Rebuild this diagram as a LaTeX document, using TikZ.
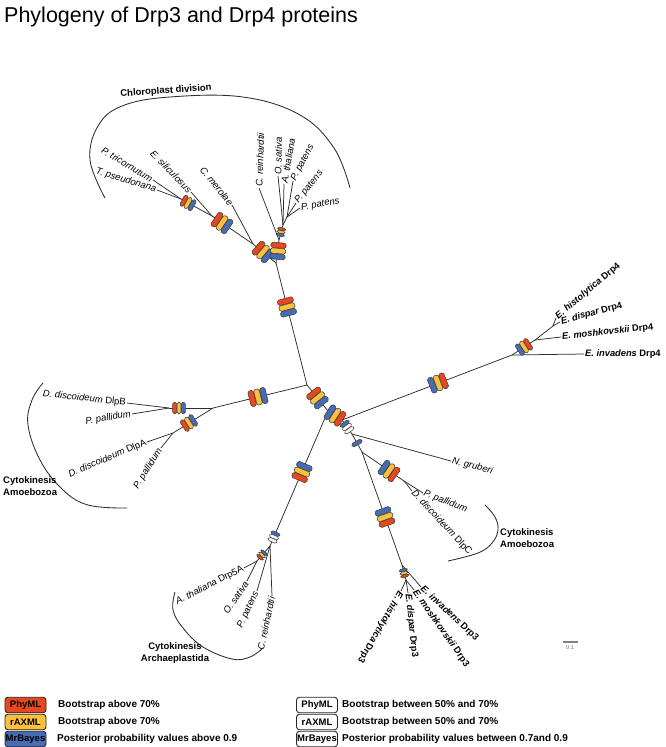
\documentclass[tikz,border=0pt]{standalone}
\usepackage{fontspec}
\setmainfont{Liberation Sans}
\usetikzlibrary{calc}
\definecolor{phyred}{RGB}{232,72,28}
\definecolor{raxyel}{RGB}{250,192,62}
\definecolor{mbblue}{RGB}{70,108,180}
\definecolor{linegray}{RGB}{45,45,45}
% #1 position, #2 rotation, #3 #4 #5 colours (top to bottom), #6 scale
\newcommand{\badge}[6]{%
  \begin{scope}[shift={(#1)},rotate=#2,scale=#6]
    \draw[barbox,fill=#3] (-8,-8.8) rectangle (8,-3.2);
    \draw[barbox,fill=#4] (-8,-2.8) rectangle (8,2.8);
    \draw[barbox,fill=#5] (-8,3.2) rectangle (8,8.8);
  \end{scope}}
\newcommand{\onebar}[4]{%
  \begin{scope}[shift={(#1)},rotate=#2,scale=#4]
    \draw[barbox,fill=#3] (-8,-2.8) rectangle (8,2.8);
  \end{scope}}
\begin{document}
\begin{tikzpicture}[x=1pt,y=-1pt,
  branch/.style={draw=linegray, line width=0.75pt},
  arcline/.style={draw=linegray, line width=0.85pt},
  barbox/.style={draw=black!75, line width=0.55pt, rounded corners=1.6pt},
  lab/.style={font=\fontsize{9.5}{10}\selectfont\itshape, inner sep=1pt},
  blab/.style={font=\fontsize{9.3}{10}\selectfont\bfseries, inner sep=1pt},
  clade/.style={font=\fontsize{9.5}{12}\selectfont\bfseries, inner sep=0pt},
  legbox/.style={draw=black!85, line width=0.9pt, rounded corners=3pt, minimum width=41pt, minimum height=15.5pt, inner sep=0pt, font=\fontsize{9.5}{10}\selectfont\bfseries},
  legtext/.style={anchor=west, font=\fontsize{10}{11}\selectfont\bfseries, inner sep=0pt}
]
\fill[white] (0,0) rectangle (666,747);
\useasboundingbox (0,0) rectangle (666,747);

% title
\node[anchor=base west, inner sep=0pt, font=\fontsize{21.5}{24}\selectfont] (title) at (4,22) {Phylogeny of Drp3 and Drp4 proteins};

% ---------- coordinates ----------
\coordinate (C) at (307,385);
\coordinate (T1) at (276,263);
\coordinate (Jcm) at (253,244);
\coordinate (Jes) at (212,216);
\coordinate (Jtp) at (181,199);
\coordinate (Jca) at (279,240);
\coordinate (Jos) at (283,225);
\coordinate (Jpp) at (287,217);
\coordinate (eTp) at (157,190);
\coordinate (ePt) at (153,180);
\coordinate (eEs) at (191,192);
\coordinate (eCm) at (232,205);
\coordinate (eCr) at (259,188);
\coordinate (eOs) at (278,176);
\coordinate (eAt) at (284,184);
\coordinate (ePpa) at (293,181);
\coordinate (ePpb) at (296,203);
\coordinate (ePpc) at (300,208);

\coordinate (JL) at (213,408);
\coordinate (JL1) at (169,408);
\coordinate (JL2) at (173,433);
\coordinate (eDlpB) at (127,403);
\coordinate (ePpB) at (132,414);
\coordinate (eDlpA) at (147,442);
\coordinate (ePpA) at (161,448);

\coordinate (C2) at (328,411);
\coordinate (C3) at (342,420);
\coordinate (C4) at (352,434);
\coordinate (C5) at (362,452);

\coordinate (J4a) at (512,355);
\coordinate (J4b) at (535,340);
\coordinate (J4c) at (553,326);
\coordinate (e4inv) at (584,354);
\coordinate (e4mos) at (561,337);
\coordinate (e4dis) at (560,322);
\coordinate (e4his) at (556,318);

\coordinate (JA) at (270,546);
\coordinate (JA2) at (257,561);
\coordinate (eAt5) at (244,568);
\coordinate (eOs5) at (247,581);
\coordinate (ePp5) at (257,591);
\coordinate (eCr5) at (272,596);

\coordinate (eNg) at (451,461);
\coordinate (JD) at (404,481);
\coordinate (eDlpC) at (412,491);
\coordinate (ePpC) at (423,493);
\coordinate (JB) at (402,565);
\coordinate (JB2) at (406,580);
\coordinate (e3inv) at (421,587);
\coordinate (e3mos) at (414,590);
\coordinate (e3dis) at (408,593);
\coordinate (e3his) at (401,591);

% ---------- branches ----------
\draw[branch] (C) -- (T1);
\draw[branch] (T1) -- (Jcm) -- (Jes) -- (Jtp);
\draw[branch] (Jtp) -- (eTp);
\draw[branch] (Jtp) -- (ePt);
\draw[branch] (Jes) -- (eEs);
\draw[branch] (Jcm) -- (eCm);
\draw[branch] (T1) -- (Jca) -- (Jos);
\draw[branch] (Jca) -- (eCr);
\draw[branch] (Jos) -- (eOs);
\draw[branch] (Jos) -- (eAt);
\draw[branch] (Jos) -- (Jpp);
\draw[branch] (Jpp) -- (ePpa);
\draw[branch] (Jpp) -- (ePpb);
\draw[branch] (Jpp) -- (ePpc);

\draw[branch] (C) -- (JL);
\draw[branch] (JL) -- (JL1);
\draw[branch] (JL1) -- (eDlpB);
\draw[branch] (JL1) -- (ePpB);
\draw[branch] (JL) -- (JL2);
\draw[branch] (JL2) -- (eDlpA);
\draw[branch] (JL2) -- (ePpA);

\draw[branch] (C) -- (C2) -- (C3) -- (C4) -- (C5);
\draw[branch] (C3) -- (J4a);
\draw[branch] (J4a) -- (e4inv);
\draw[branch] (J4a) -- (J4b);
\draw[branch] (J4b) -- (e4mos);
\draw[branch] (J4b) -- (J4c);
\draw[branch] (J4c) -- (e4dis);
\draw[branch] (J4c) -- (e4his);

\draw[branch] (C2) -- (JA);
\draw[branch] (JA) -- (eCr5);
\draw[branch] (JA) -- (ePp5);
\draw[branch] (JA) -- (JA2);
\draw[branch] (JA2) -- (eAt5);
\draw[branch] (JA2) -- (eOs5);

\draw[branch] (C4) -- (eNg);
\draw[branch] (C5) -- (JD);
\draw[branch] (JD) -- (eDlpC);
\draw[branch] (JD) -- (ePpC);
\draw[branch] (C5) -- (JB);
\draw[branch] (JB) -- (e3inv);
\draw[branch] (JB) -- (JB2);
\draw[branch] (JB2) -- (e3mos);
\draw[branch] (JB2) -- (e3dis);
\draw[branch] (JB2) -- (e3his);

% ---------- support badges ----------
\badge{287,307}{15}{phyred}{raxyel}{mbblue}{1}
\badge{263,252}{50}{phyred}{raxyel}{mbblue}{1}
\badge{278,251}{-5}{phyred}{raxyel}{mbblue}{0.95}
\badge{281,232}{-12}{phyred}{raxyel}{mbblue}{0.5}
\badge{222,223}{56}{phyred}{raxyel}{mbblue}{1}
\badge{188,203}{61}{phyred}{raxyel}{mbblue}{0.75}

\badge{258,397}{104}{phyred}{raxyel}{mbblue}{1}
\badge{179,408}{90}{phyred}{raxyel}{mbblue}{0.72}
\badge{189,423}{122}{phyred}{raxyel}{mbblue}{0.8}

\badge{317.5,398}{39}{phyred}{raxyel}{mbblue}{1}
\badge{335,415.5}{-123}{phyred}{raxyel}{mbblue}{1}
\badge{347,427}{35}{mbblue}{white}{white}{0.65}
\onebar{357,443}{29}{mbblue}{0.7}

\badge{438,383}{-69}{phyred}{raxyel}{mbblue}{1}
\badge{524,347}{-57}{phyred}{raxyel}{mbblue}{0.8}

\badge{302,472}{-23}{mbblue}{raxyel}{phyred}{1}
\badge{274,537}{-23}{mbblue}{white}{white}{0.6}
\badge{262,555}{-41}{mbblue}{raxyel}{phyred}{0.5}

\badge{389,471}{55}{mbblue}{raxyel}{phyred}{1}
\badge{385,517}{19.5}{mbblue}{raxyel}{phyred}{1}
\badge{404,573}{15}{mbblue}{raxyel}{phyred}{0.5}

% ---------- leaf labels ----------
\node[lab, anchor=east, rotate=-17] (nTp) at (eTp) {T. pseudonana};
\node[lab, anchor=east, rotate=-31] (nPt) at (ePt) {P. tricornutum};
\node[lab, anchor=east, rotate=-46] (nEs) at (eEs) {E. siliculosus};
\node[lab, anchor=east, rotate=-51] (nCm) at (eCm) {C. merolae};
\node[lab, anchor=west, rotate=88] (nCr) at (eCr) {C. reinhardtii};
\node[lab, anchor=west, rotate=89] (nOs) at (eOs) {O. sativa};
\node[lab, anchor=west, rotate=80] (nAt) at (eAt) {A. thaliana};
\node[lab, anchor=west, rotate=62] (nPpa) at (ePpa) {P. patens};
\node[lab, anchor=west, rotate=51] (nPpb) at (ePpb) {P. patens};
\node[lab, anchor=west, rotate=10] (nPpc) at (ePpc) {P. patens};

\node[lab, anchor=east, rotate=-6] (nDlpB) at (eDlpB) {D. discoideum \upshape DlpB};
\node[lab, anchor=east, rotate=10] (nPpB) at (ePpB) {P. pallidum};
\node[lab, anchor=east, rotate=23] (nDlpA) at (eDlpA) {D. discoideum \upshape DlpA};
\node[lab, anchor=east, rotate=58] (nPpA) at (ePpA) {P. pallidum};

\node[blab, anchor=west, rotate=0] (n4inv) at (e4inv) {\itshape E. invadens \upshape Drp4};
\node[blab, anchor=west, rotate=6] (n4mos) at (e4mos) {\itshape E. moshkovskii \upshape Drp4};
\node[blab, anchor=west, rotate=15] (n4dis) at (e4dis) {\itshape E. dispar \upshape Drp4};
\node[blab, anchor=west, rotate=40] (n4his) at (e4his) {\itshape E. histolytica \upshape Drp4};

\node[lab, anchor=east, rotate=27] (nAt5) at (eAt5) {A. thaliana \upshape Drp5A};
\node[lab, anchor=east, rotate=56] (nOs5) at (eOs5) {O. sativa};
\node[lab, anchor=east, rotate=65] (nPp5) at (ePp5) {P. patens};
\node[lab, anchor=east, rotate=78] (nCr5) at (eCr5) {C. reinhardtii};

\node[lab, anchor=west, rotate=-14] (nNg) at (eNg) {N. gruberi};
\node[lab, anchor=west, rotate=-21] (nPpC) at (ePpC) {P. pallidum};
\node[lab, anchor=west, rotate=-47] (nDlpC) at (eDlpC) {D. discoideum \upshape DlpC};

\node[blab, anchor=west, rotate=-43] (n3inv) at (e3inv) {\itshape E. invadens \upshape Drp3};
\node[blab, anchor=west, rotate=-55] (n3mos) at (e3mos) {\itshape E. moshkovskii \upshape Drp3};
\node[blab, anchor=west, rotate=-84] (n3dis) at (e3dis) {\itshape E. dispar \upshape Drp3};
\node[blab, anchor=west, rotate=-120] (n3his) at (e3his) {\itshape E. histolytica \upshape Drp3};

% ---------- clade brackets ----------
\draw[arcline] plot[smooth, tension=0.65] coordinates {(105,198) (90,160) (98,126) (122,106) (170,97) (243,97) (300,115) (334,148) (350,188)};
\node[clade, rotate=4] (chl) at (166,91) {Chloroplast division};

\draw[arcline] plot[smooth, tension=0.65] coordinates {(43,383) (32,400) (28,425) (40,460) (62,489) (88,505) (127,508)};
\node[clade, anchor=west, align=left] (amoL) at (3,486) {Cytokinesis\\Amoebozoa};

\draw[arcline] plot[smooth, tension=0.65] coordinates {(485,505) (495,517) (498,530) (492,543) (478,553) (448,561)};
\node[clade, anchor=west, align=left] (amoR) at (500,538) {Cytokinesis\\Amoebozoa};

\draw[arcline] plot[smooth, tension=0.65] coordinates {(175,592) (173,610) (183,628) (203,647) (232,659) (250,657) (263,648)};
\node[clade, align=center] (arch) at (175,653.5) {Cytokinesis\\Archaeplastida};

% ---------- scale bar ----------
\coordinate (sb1) at (563,642);
\coordinate (sb2) at (578,642);
\draw[gray, line width=1.3pt] (sb1) -- (sb2);
\node[font=\fontsize{6}{7}\selectfont, text=gray, inner sep=0pt] (sbl) at (570,647.5) {0.1};

% ---------- legend ----------
\node[legbox, fill=phyred] (lg1) at (25.5,705) {PhyML};
\node[legbox, fill=raxyel] (lg2) at (25.5,722) {rAXML};
\node[legbox, fill=mbblue] (lg3) at (25.5,739) {MrBayes};
\node[legtext] (lt1) at (58,705) {Bootstrap above 70\%};
\node[legtext] (lt2) at (58,722) {Bootstrap above 70\%};
\node[legtext] (lt3) at (57,739) {Posterior probability values above 0.9};

\node[legbox, fill=white] (lg4) at (317,705) {PhyML};
\node[legbox, fill=white] (lg5) at (317,722) {rAXML};
\node[legbox, fill=white] (lg6) at (317,739) {MrBayes};
\node[legtext] (lt4) at (342,705) {Bootstrap between 50\% and 70\%};
\node[legtext] (lt5) at (342,722) {Bootstrap between 50\% and 70\%};
\node[legtext] (lt6) at (342,739) {Posterior probability values between 0.7and 0.9};
\end{tikzpicture}
\end{document}
